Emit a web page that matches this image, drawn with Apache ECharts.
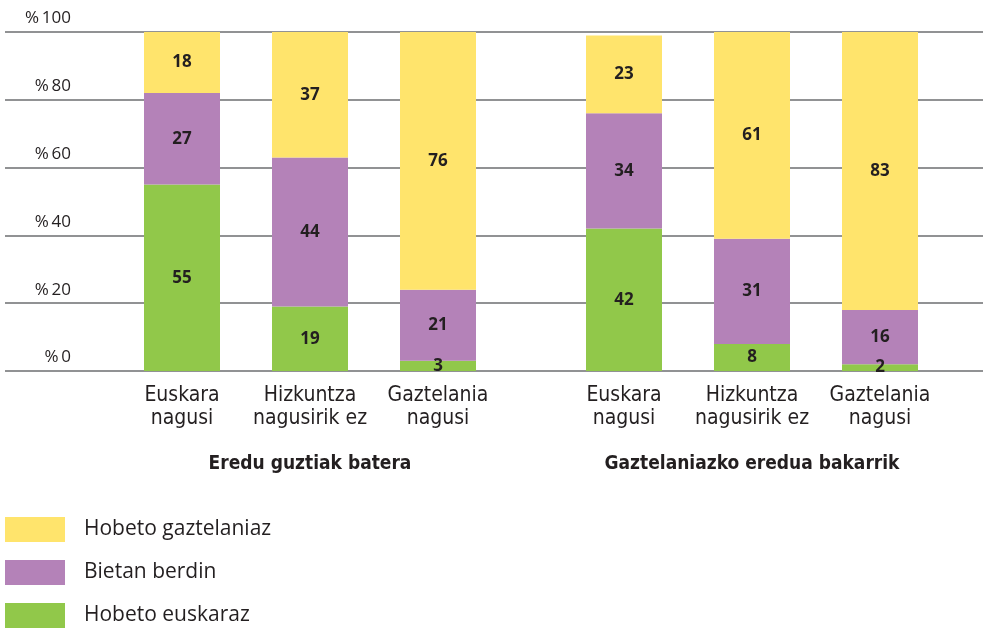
<!DOCTYPE html>
<html>
<head>
<meta charset="utf-8">
<script src="https://cdn.jsdelivr.net/npm/echarts@6/dist/echarts.min.js"></script>
<style>
  html, body { margin: 0; padding: 0; background: #fff; }
  #chart { width: 989px; height: 630px; }
</style>
</head>
<body>
<div id="chart"></div>
<script>
// kategoriak
var categories = ['Euskara\nnagusi', 'Hizkuntza\nnagusirik ez', 'Gaztelania\nnagusi'];
var groupNames = ['Eredu guztiak batera', 'Gaztelaniazko eredua bakarrik'];
var yTicks = [0, 20, 40, 60, 80, 100];

// Eredu guztiak batera
var euskarazAll = [55, 19, 3];
var berdinAll = [27, 44, 21];
var gaztelaniazAll = [18, 37, 76];

// Gaztelaniazko eredua bakarrik
var euskarazGazt = [42, 8, 2];
var berdinGazt = [34, 31, 16];
var gaztelaniazGazt = [23, 61, 83];

var names = ['Hobeto euskaraz', 'Bietan berdin', 'Hobeto gaztelaniaz'];
var colors = ['#91c84a', '#b482b8', '#ffe46c'];

var textColor = '#231f20';
var font = "'Open Sans', 'Noto Sans', sans-serif";
var narrow = "'Liberation Sans Narrow', 'DejaVu Sans Condensed', sans-serif";

var chart = echarts.init(document.getElementById('chart'));

function makeSeries(data, idx, axisIdx) {
    return {
        name: names[idx],
        type: 'bar',
        stack: 'g' + axisIdx,
        xAxisIndex: axisIdx,
        yAxisIndex: axisIdx,
        barWidth: 76,
        itemStyle: { color: colors[idx] },
        label: {
            show: true,
            position: 'inside',
            color: textColor,
            fontFamily: font,
            fontWeight: 'bold',
            fontSize: 17
        },
        data: data
    };
}

function groupAxis(gridIdx, title) {
    return {
        type: 'category',
        gridIndex: gridIdx,
        data: categories,
        axisLine: { show: false },
        axisTick: { show: false },
        axisLabel: {
            interval: 0,
            color: textColor,
            fontFamily: narrow,
            fontSize: 21,
            lineHeight: 23,
            margin: 13
        },
        name: title,
        nameLocation: 'middle',
        nameGap: 84,
        nameTextStyle: {
            color: textColor,
            fontFamily: narrow,
            fontWeight: 'bold',
            fontSize: 19
        }
    };
}

function hiddenY(gridIdx) {
    return {
        type: 'value',
        gridIndex: gridIdx,
        min: 0,
        max: 100,
        show: false
    };
}

var option = {
    animation: false,
    legend: {
        orient: 'vertical',
        left: 5,
        top: 517,
        height: 113,
        padding: 0,
        itemWidth: 60,
        itemHeight: 25,
        itemGap: 18,
        icon: 'rect',
        data: ['Hobeto gaztelaniaz', 'Bietan berdin', 'Hobeto euskaraz'],
        textStyle: {
            color: textColor,
            fontFamily: font,
            fontSize: 21,
            padding: [0, 0, 0, 14]
        }
    },
    grid: [
        { left: 5, right: 6, top: 32, height: 339 },
        { left: 118, width: 384, top: 32, height: 339 },
        { left: 560, width: 384, top: 32, height: 339 }
    ],
    xAxis: [
        { type: 'value', gridIndex: 0, show: false },
        groupAxis(1, groupNames[0]),
        groupAxis(2, groupNames[1])
    ],
    yAxis: [
        {
            type: 'value',
            gridIndex: 0,
            min: 0,
            max: 100,
            interval: 20,
            axisLine: { show: false },
            axisTick: { show: false },
            splitLine: { lineStyle: { color: '#6d6e71', width: 1.5 } },
            axisLabel: {
                inside: true,
                align: 'right',
                verticalAlign: 'bottom',
                margin: 66,
                padding: [0, 0, 5, 0],
                color: textColor,
                fontFamily: font,
                fontSize: 17,
                formatter: function (v) {
                    return yTicks.indexOf(v) >= 0 ? '%\u2009' + v : '';
                }
            }
        },
        hiddenY(1),
        hiddenY(2)
    ],
    series: [
        makeSeries(euskarazAll, 0, 1),
        makeSeries(berdinAll, 1, 1),
        makeSeries(gaztelaniazAll, 2, 1),
        makeSeries(euskarazGazt, 0, 2),
        makeSeries(berdinGazt, 1, 2),
        makeSeries(gaztelaniazGazt, 2, 2)
    ]
};

chart.setOption(option);
</script>
</body>
</html>
